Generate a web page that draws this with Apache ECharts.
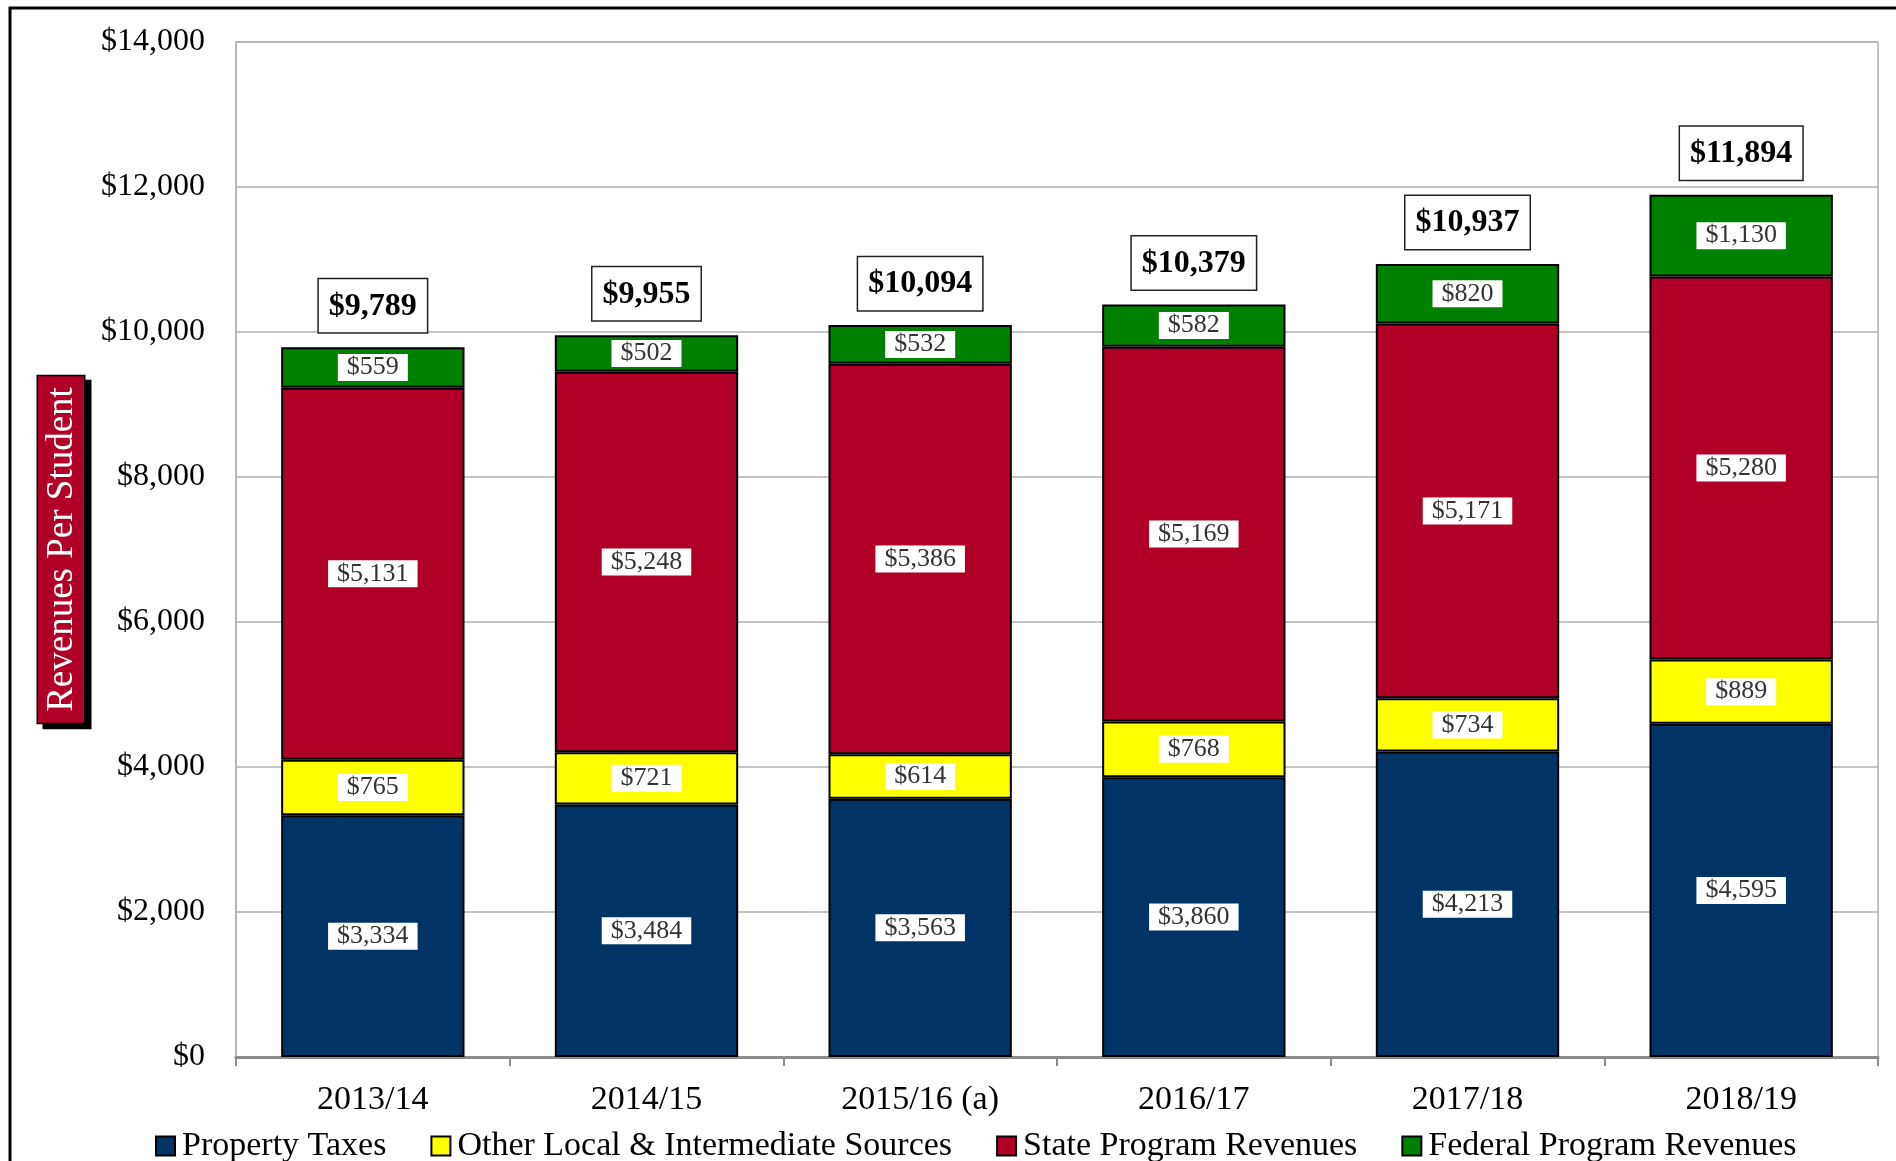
<!DOCTYPE html>
<html>
<head>
<meta charset="utf-8">
<style>
  html, body { margin: 0; padding: 0; background: #fff; }
  #container { width: 1896px; height: 1161px; }
</style>
<script src="https://cdn.jsdelivr.net/npm/echarts@6/dist/echarts.min.js"></script>
</head>
<body>
<div id="container"></div>
<script>
// 各年度数据
var years = ["2013/14", "2014/15", "2015/16 (a)", "2016/17", "2017/18", "2018/19"];
var propertyTaxes = [3334, 3484, 3563, 3860, 4213, 4595];
var otherLocal = [765, 721, 614, 768, 734, 889];
var stateRevenues = [5131, 5248, 5386, 5169, 5171, 5280];
var federalRevenues = [559, 502, 532, 582, 820, 1130];
var totals = [9789, 9955, 10094, 10379, 10937, 11894];

var FONT = "Liberation Serif";

function money(v) {
    return "$" + Number(v).toLocaleString("en-US");
}

// 柱内数值标签
var innerLabel = {
    show: true,
    position: "inside",
    formatter: function (p) { return money(p.value); },
    fontFamily: FONT,
    fontSize: 26,
    lineHeight: 26,
    color: "#333",
    backgroundColor: "#fff",
    padding: [1, 9, 0, 9]
};

function segment(name, data, color) {
    return {
        name: name,
        type: "bar",
        stack: "rev",
        barWidth: "67%",
        data: data,
        itemStyle: { color: color, borderColor: "#000", borderWidth: 2 },
        label: innerLabel
    };
}

var dom = document.getElementById("container");
var myChart = echarts.init(dom);
var option;
option = {
    animation: false,
    textStyle: { fontFamily: FONT },
    graphic: [
        {
            type: "rect",
            shape: { x: 10, y: 8, width: 1900, height: 1170 },
            style: { fill: null, stroke: "#000", lineWidth: 3 },
            z: 100
        }
    ],
    grid: {
        left: 236, right: 18, top: 42, bottom: 104,
        show: true, borderColor: "#b0b0b0", borderWidth: 1.5
    },
    legend: {
        data: ["Property Taxes", "Other Local & Intermediate Sources",
            "State Program Revenues", "Federal Program Revenues"],
        left: 150,
        top: 1124,
        icon: "rect",
        itemWidth: 19,
        itemHeight: 19,
        itemGap: 44,
        textStyle: { fontFamily: FONT, fontSize: 34, color: "#000", padding: [0, 0, 0, 2] }
    },
    xAxis: {
        type: "category",
        data: years,
        axisLine: { lineStyle: { color: "#8c8c8c", width: 3 } },
        axisTick: { show: true, length: 9, lineStyle: { color: "#8c8c8c", width: 2 } },
        axisLabel: { fontFamily: FONT, fontSize: 34, color: "#000", margin: 26 }
    },
    yAxis: {
        type: "value",
        min: 0,
        max: 14000,
        interval: 2000,
        name: "Revenues Per Student",
        nameLocation: "middle",
        nameRotate: 90,
        nameGap: 152,
        nameTextStyle: {
            fontFamily: FONT,
            fontSize: 37,
            color: "#fff",
            backgroundColor: "#b00028",
            borderColor: "#000",
            borderWidth: 1.5,
            padding: [6, 11, 3, 11],
            shadowColor: "#000",
            shadowOffsetX: 6,
            shadowOffsetY: 5,
            shadowBlur: 0
        },
        axisLine: { show: true, lineStyle: { color: "#b0b0b0", width: 1.5 } },
        axisTick: { show: false },
        splitLine: { lineStyle: { color: "#b0b0b0", width: 1.5 } },
        axisLabel: {
            fontFamily: FONT, fontSize: 32, color: "#000", margin: 31,
            formatter: function (v) { return money(v); }
        }
    },
    series: [
        segment("Property Taxes", propertyTaxes, "#003366"),
        segment("Other Local & Intermediate Sources", otherLocal, "#ffff00"),
        segment("State Program Revenues", stateRevenues, "#b00028"),
        segment("Federal Program Revenues", federalRevenues, "#008000"),
        {
            name: "Total",
            type: "bar",
            barWidth: "67%",
            barGap: "-100%",
            data: totals,
            z: 1,
            itemStyle: { color: "rgba(0,0,0,0)" },
            label: {
                show: true,
                position: "top",
                distance: 15,
                formatter: function (p) { return money(p.value); },
                fontFamily: FONT,
                fontSize: 32,
                fontWeight: "bold",
                lineHeight: 32,
                color: "#000",
                backgroundColor: "#fff",
                borderColor: "#222",
                borderWidth: 1.5,
                padding: [11, 10, 10, 10]
            }
        }
    ]
};

if (option && typeof option === 'object') {
    myChart.setOption(option);
}
</script>
</body>
</html>
